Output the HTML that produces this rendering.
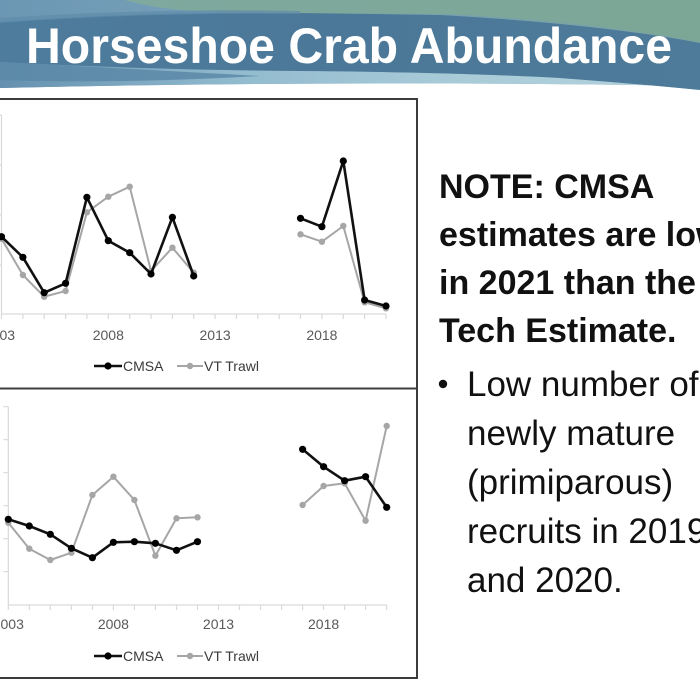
<!DOCTYPE html>
<html>
<head>
<meta charset="utf-8">
<style>
  html, body { margin: 0; padding: 0; background: #fff; }
  body { width: 700px; height: 700px; overflow: hidden; }
  svg { display: block; }
  .tick { font-family: "Liberation Sans", sans-serif; font-size: 14px; fill: #595959; }
  .leg { font-family: "Liberation Sans", sans-serif; font-size: 14px; fill: #3a3a3a; }
  .bold { font-family: "Liberation Sans", sans-serif; font-size: 34px; font-weight: bold; fill: #111; }
  .reg { font-family: "Liberation Sans", sans-serif; font-size: 35px; fill: #111; }
</style>
</head>
<body>
<svg width="700" height="700" viewBox="0 0 700 700" xmlns="http://www.w3.org/2000/svg">
  <defs>
    <linearGradient id="topg" x1="0" y1="0" x2="1" y2="0">
      <stop offset="0" stop-color="#6c97b4"/>
      <stop offset="0.3" stop-color="#76a0b8"/>
      <stop offset="1" stop-color="#7aa4a0"/>
    </linearGradient>
    <linearGradient id="greeng" x1="0" y1="0" x2="1" y2="0">
      <stop offset="0" stop-color="#7fa89e"/>
      <stop offset="1" stop-color="#7ca796"/>
    </linearGradient>
    <linearGradient id="underg" x1="0" y1="0" x2="1" y2="0">
      <stop offset="0" stop-color="#6591b0"/>
      <stop offset="0.35" stop-color="#93bccf"/>
      <stop offset="0.65" stop-color="#a9cbd8"/>
      <stop offset="1" stop-color="#b2d2dd"/>
    </linearGradient>
    <linearGradient id="darkg" x1="0" y1="0" x2="1" y2="0">
      <stop offset="0" stop-color="#4e7c9c"/>
      <stop offset="0.5" stop-color="#4b7898"/>
      <stop offset="1" stop-color="#4e7b9a"/>
    </linearGradient>
    <marker id="mb" markerWidth="10" markerHeight="10" refX="5" refY="5" markerUnits="userSpaceOnUse">
      <circle cx="5" cy="5" r="3.6" fill="#000"/>
    </marker>
    <marker id="mg" markerWidth="10" markerHeight="10" refX="5" refY="5" markerUnits="userSpaceOnUse">
      <circle cx="5" cy="5" r="3.2" fill="#a6a6a6"/>
    </marker>
  </defs>

  <!-- Header wave -->
  <rect x="0" y="0" width="700" height="95" fill="url(#topg)"/>
  <path d="M125,0 Q165,12 240,13 L450,14 Q600,22 700,42 L700,0 Z" fill="url(#greeng)"/>
  <path d="M0,88 Q350,80 700,86 L700,100 L0,100 Z" fill="#fff"/>
  <path d="M0,62 Q150,70 300,71 Q450,72 560,78 Q640,84 700,90 L700,86 Q350,80 0,88 Z" fill="url(#underg)"/>
  <path d="M0,62 L0,80 Q120,84 260,76 Q150,70 0,62 Z" fill="#5b88a7" opacity="0.85"/>
  <path d="M0,22 Q150,11 300,13 L440,15 Q600,24 700,43 L700,90 Q640,84 560,78 Q450,72 300,71 Q150,70 0,62 Z" fill="url(#darkg)"/>
  <path d="M0,18 Q150,8 300,11 L300,14 Q150,12 0,23 Z" fill="#5f8cab" opacity="0.7"/>
  <text x="26" y="63" font-family="Liberation Sans, sans-serif" font-size="50" font-weight="bold" fill="#fff" textLength="646" lengthAdjust="spacingAndGlyphs">Horseshoe Crab Abundance</text>

  <!-- Chart boxes -->
  <rect x="-3" y="99" width="420" height="289.5" fill="#fff" stroke="#3c3c3c" stroke-width="2"/>
  <rect x="-3" y="388.5" width="420" height="289.5" fill="#fff" stroke="#3c3c3c" stroke-width="2"/>

  <!-- TOP CHART axes -->
  <g stroke="#d9d9d9" stroke-width="1.2" fill="none">
    <line x1="1.5" y1="115" x2="1.5" y2="314"/>
    <line x1="1.5" y1="314" x2="386" y2="314"/>
    <path d="M-3,115 H1.5 M-3,165 H1.5 M-3,215 H1.5 M-3,265 H1.5"/>
    <path d="M1.5,314 v5 M22.9,314 v5 M44.2,314 v5 M65.6,314 v5 M86.9,314 v5 M108.3,314 v5 M129.7,314 v5 M151,314 v5 M172.4,314 v5 M193.7,314 v5 M215.1,314 v5 M236.5,314 v5 M257.8,314 v5 M279.2,314 v5 M300.5,314 v5 M321.9,314 v5 M343.3,314 v5 M364.6,314 v5 M386,314 v5"/>
  </g>
  <text class="tick" x="-0.5" y="340" text-anchor="middle">2003</text>
  <text class="tick" x="108.3" y="340" text-anchor="middle">2008</text>
  <text class="tick" x="215.1" y="340" text-anchor="middle">2013</text>
  <text class="tick" x="321.9" y="340" text-anchor="middle">2018</text>

  <!-- TOP series -->
  <g fill="none" stroke-linejoin="round">
    <polyline stroke="#a6a6a6" stroke-width="2" marker-start="url(#mg)" marker-mid="url(#mg)" marker-end="url(#mg)"
      points="1.5,238.7 22.9,275 44.2,296.7 65.6,291 86.9,212.3 108.3,196.7 129.7,186.7 151,271 172.4,247.7 193.7,272.7"/>
    <polyline stroke="#a6a6a6" stroke-width="2" marker-start="url(#mg)" marker-mid="url(#mg)" marker-end="url(#mg)"
      points="300.5,234.3 321.9,241.7 343.3,226 364.6,302.3 386,308.3"/>
    <polyline stroke="#111" stroke-width="2.6" marker-start="url(#mb)" marker-mid="url(#mb)" marker-end="url(#mb)"
      points="1.5,236.7 22.9,257.3 44.2,292.7 65.6,283.3 86.9,197.3 108.3,240.7 129.7,252.7 151,274 172.4,217.3 193.7,276"/>
    <polyline stroke="#111" stroke-width="2.6" marker-start="url(#mb)" marker-mid="url(#mb)" marker-end="url(#mb)"
      points="300.5,218.3 321.9,226.7 343.3,161 364.6,300 386,306"/>
  </g>

  <!-- TOP legend -->
  <line x1="94" y1="366" x2="122" y2="366" stroke="#111" stroke-width="2.6"/>
  <circle cx="108" cy="366" r="3.6" fill="#000"/>
  <text class="leg" x="123" y="371">CMSA</text>
  <line x1="177" y1="366" x2="203" y2="366" stroke="#a6a6a6" stroke-width="2"/>
  <circle cx="190" cy="366" r="3.2" fill="#a6a6a6"/>
  <text class="leg" x="204" y="371">VT Trawl</text>

  <!-- BOTTOM CHART axes -->
  <g stroke="#d9d9d9" stroke-width="1.2" fill="none">
    <line x1="8.3" y1="406.7" x2="8.3" y2="605"/>
    <line x1="8.3" y1="605" x2="386.7" y2="605"/>
    <path d="M3.3,406.7 H8.3 M3.3,439.7 H8.3 M3.3,472.7 H8.3 M3.3,505.7 H8.3 M3.3,538.7 H8.3 M3.3,571.7 H8.3"/>
    <path d="M8.3,605 v5 M29.3,605 v5 M50.3,605 v5 M71.4,605 v5 M92.4,605 v5 M113.4,605 v5 M134.4,605 v5 M155.4,605 v5 M176.5,605 v5 M197.5,605 v5 M218.5,605 v5 M239.5,605 v5 M260.5,605 v5 M281.6,605 v5 M302.6,605 v5 M323.6,605 v5 M344.6,605 v5 M365.6,605 v5 M386.7,605 v5"/>
  </g>
  <text class="tick" x="8.3" y="629" text-anchor="middle">2003</text>
  <text class="tick" x="113.4" y="629" text-anchor="middle">2008</text>
  <text class="tick" x="218.5" y="629" text-anchor="middle">2013</text>
  <text class="tick" x="323.6" y="629" text-anchor="middle">2018</text>

  <!-- BOTTOM series -->
  <g fill="none" stroke-linejoin="round">
    <polyline stroke="#a6a6a6" stroke-width="2" marker-start="url(#mg)" marker-mid="url(#mg)" marker-end="url(#mg)"
      points="8.3,522.7 29.3,548.7 50.3,560 71.4,552.7 92.4,495 113.4,476.7 134.4,500 155.4,555.7 176.5,518.3 197.5,517.3"/>
    <polyline stroke="#a6a6a6" stroke-width="2" marker-start="url(#mg)" marker-mid="url(#mg)" marker-end="url(#mg)"
      points="302.6,505 323.6,486 344.6,483.3 365.6,520.7 386.7,426"/>
    <polyline stroke="#111" stroke-width="2.6" marker-start="url(#mb)" marker-mid="url(#mb)" marker-end="url(#mb)"
      points="8.3,519.3 29.3,526 50.3,534.3 71.4,548.3 92.4,557.7 113.4,542.3 134.4,541.7 155.4,543.3 176.5,550.3 197.5,541.7"/>
    <polyline stroke="#111" stroke-width="2.6" marker-start="url(#mb)" marker-mid="url(#mb)" marker-end="url(#mb)"
      points="302.6,449.3 323.6,466.7 344.6,480.7 365.6,476.7 386.7,507.3"/>
  </g>

  <!-- BOTTOM legend -->
  <line x1="94" y1="656" x2="122" y2="656" stroke="#111" stroke-width="2.6"/>
  <circle cx="108" cy="656" r="3.6" fill="#000"/>
  <text class="leg" x="123" y="661">CMSA</text>
  <line x1="177" y1="656" x2="203" y2="656" stroke="#a6a6a6" stroke-width="2"/>
  <circle cx="190" cy="656" r="3.2" fill="#a6a6a6"/>
  <text class="leg" x="204" y="661">VT Trawl</text>

  <!-- Right text -->
  <text class="bold" x="439" y="198">NOTE: CMSA</text>
  <text class="bold" x="439" y="246">estimates are lower</text>
  <text class="bold" x="439" y="294">in 2021 than the VT</text>
  <text class="bold" x="439" y="342">Tech Estimate.</text>

  <circle cx="443" cy="384" r="4.2" fill="#111"/>
  <text class="reg" x="467" y="396">Low number of</text>
  <text class="reg" x="467" y="445">newly mature</text>
  <text class="reg" x="467" y="494">(primiparous)</text>
  <text class="reg" x="467" y="543">recruits in 2019</text>
  <text class="reg" x="467" y="592">and 2020.</text>
</svg>
</body>
</html>
